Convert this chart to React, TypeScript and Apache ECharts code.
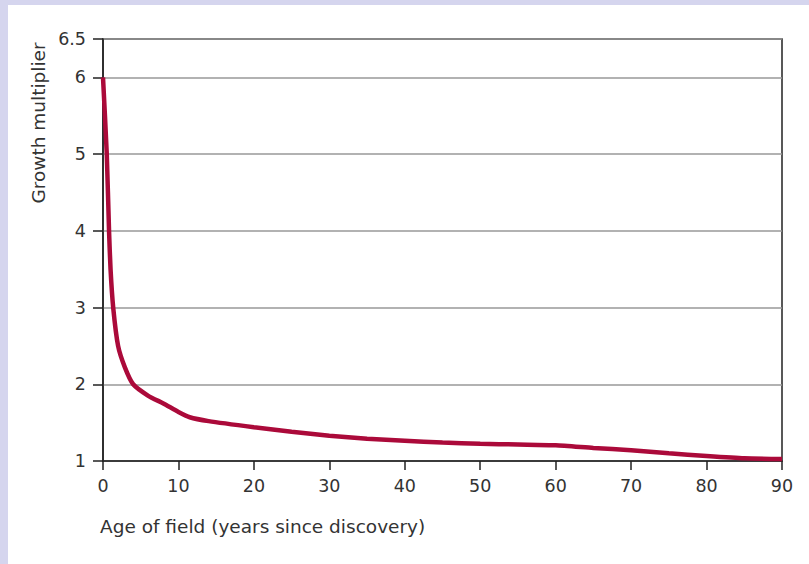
import React, { useEffect, useRef } from "react";
import * as echarts from "echarts";

const ages: number[] = [0, 0.5, 0.8, 1.0, 1.35, 2.0, 2.9, 4.0, 6, 8, 10, 11.5, 14, 20, 25, 30, 35, 40, 45, 50, 55, 60, 65, 70, 75, 80, 85, 90];
const multipliers: number[] = [6.0, 5.0, 4.0, 3.5, 3.0, 2.5, 2.22, 2.0, 1.85, 1.75, 1.64, 1.57, 1.52, 1.44, 1.38, 1.33, 1.29, 1.265, 1.24, 1.225, 1.215, 1.205, 1.17, 1.14, 1.1, 1.065, 1.035, 1.025];
const xTitle = "Age of field (years since discovery)";
const yTitle = "Growth multiplier";

const FONT = "'DejaVu Sans', sans-serif";

export default function App() {
  const ref = useRef<HTMLDivElement>(null);
  useEffect(() => {
    if (!ref.current) return;
    const chart = echarts.init(ref.current, null, { renderer: "svg" });
    chart.setOption({
      animation: false,
      grid: {
        left: 103,
        top: 39,
        right: 27,
        bottom: 103,
        show: true,
        borderColor: "#222",
        borderWidth: 1.5,
        backgroundColor: "transparent",
      },
      xAxis: {
        type: "value",
        min: 0,
        max: 90,
        interval: 10,
        axisLine: { show: true, onZero: false, lineStyle: { color: "#222", width: 1.5 } },
        axisTick: { show: true, inside: false, length: 9, lineStyle: { color: "#222", width: 1.5 } },
        axisLabel: { color: "#333", fontSize: 17.5, fontFamily: FONT, margin: 16 },
        splitLine: { show: false },
      },
      yAxis: {
        type: "value",
        min: 1,
        max: 6.5,
        interval: 1,
        axisLine: { show: true, onZero: false, lineStyle: { color: "#222", width: 1.5 } },
        axisTick: { show: true, inside: false, length: 10, lineStyle: { color: "#222", width: 1.5 } },
        axisLabel: { color: "#333", fontSize: 17.5, fontFamily: FONT, margin: 17 },
        splitLine: { show: true, lineStyle: { color: "#999", width: 1.5 } },
      },
      series: [
        {
          type: "line",
          data: ages.map((a, i) => [a, multipliers[i]]),
          showSymbol: false,
          smooth: 0.2,
          lineStyle: { color: "#ab0a3a", width: 4.5 },
          z: 3,
        },
      ],
      graphic: [
        {
          type: "text",
          x: 38,
          y: 123,
          rotation: Math.PI / 2,
          style: {
            text: yTitle,
            fill: "#333",
            font: `18.5px ${FONT}`,
            textAlign: "center",
            textVerticalAlign: "middle",
          },
        },
        {
          type: "text",
          x: 100,
          y: 526,
          style: {
            text: xTitle,
            fill: "#333",
            font: `18.5px ${FONT}`,
            textAlign: "left",
            textVerticalAlign: "middle",
          },
        },
      ],
    });
    return () => chart.dispose();
  }, []);
  return (
    <div style={{ position: "fixed", left: 0, top: 0, width: 809, height: 564, background: "#d5d5ee" }}>
      <div style={{ position: "absolute", left: 8, top: 5, right: 0, bottom: 0, background: "#ffffff" }} />
      <div ref={ref} style={{ position: "absolute", left: 0, top: 0, width: 809, height: 564 }} />
    </div>
  );
}
